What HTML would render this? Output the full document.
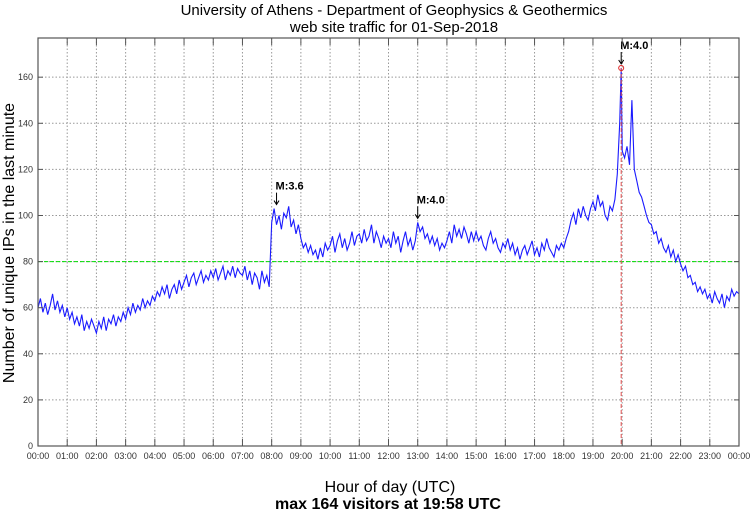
<!DOCTYPE html>
<html><head><meta charset="utf-8"><style>
body{margin:0;background:#fff;}
svg{display:block;font-family:"Liberation Sans",sans-serif;}
</style></head><body>
<svg id="chart" width="750" height="511">
<rect x="0" y="0" width="750" height="511" fill="#fff"/>
<text x="394" y="15" font-size="15" text-anchor="middle">University of Athens - Department of Geophysics &amp; Geothermics</text>
<text x="394" y="32" font-size="15" text-anchor="middle">web site traffic for 01-Sep-2018</text>
<g id="grid"></g>
<g id="series"></g>
<g id="ann"></g>
<rect x="38" y="38" width="701" height="408" fill="none" stroke="#555" stroke-width="1.2"/>
<g id="ticks"></g>
<text x="14" y="243" font-size="16" text-anchor="middle" transform="rotate(-90 14 243)">Number of unique IPs in the last minute</text>
<text x="390" y="492" font-size="16" text-anchor="middle">Hour of day (UTC)</text>
<text x="388" y="509" font-size="16" font-weight="bold" text-anchor="middle">max 164 visitors at 19:58 UTC</text>
</svg>
<script>
const visitors5 = [
60,64,58,62,57,61,66,59,63,58,61,56,
60,55,58,53,56,52,57,50,54,51,55,52,
49,54,51,56,50,55,53,57,52,56,54,58,
55,60,57,62,58,61,59,64,60,63,61,65,
63,67,65,69,66,70,64,68,70,66,72,68,
71,74,69,73,75,70,73,76,71,74,72,76,
73,77,72,75,78,72,76,74,78,73,77,75,
74,78,72,76,70,75,73,68,76,71,74,69,
97,103,96,100,94,101,99,104,95,98,92,96,
90,86,88,84,87,83,85,81,86,82,88,85,
87,91,84,89,92,86,90,85,88,93,87,91,
92,88,94,89,91,96,88,93,90,86,91,88,
90,86,93,88,91,84,89,93,87,90,85,89,
97,93,95,90,92,88,91,87,90,85,88,86,
89,93,88,96,91,94,90,95,92,88,93,89,
93,89,91,87,85,90,93,88,90,86,84,88,
86,90,85,88,83,86,81,85,87,83,86,89,
83,86,82,88,85,90,86,84,82,87,85,88,
86,90,93,98,101,96,103,99,104,100,98,103,
106,102,109,104,106,100,98,104,102,107,118,140,
128,125,130,122,150,120,115,110,108,104,100,97,
96,92,93,88,90,86,84,87,82,85,80,83,
79,76,78,73,74,70,71,67,69,66,68,64,
66,62,67,64,62,66,60,65,63,68,65,67,
66];
const peakMinute = 1198;
const peakValue = 164;
const thresholdValue = 80;
const yTicks = [0,20,40,60,80,100,120,140,160];
const xTickLabels = ["00:00","01:00","02:00","03:00","04:00","05:00","06:00","07:00","08:00","09:00","10:00","11:00","12:00","13:00","14:00","15:00","16:00","17:00","18:00","19:00","20:00","21:00","22:00","23:00","00:00"];
const quakeMinutes = [490, 780, 1198];
const quakeLabels = ["M:3.6", "M:4.0", "M:4.0"];

const NS="http://www.w3.org/2000/svg";
const L=38,R=739,T=38,B=446,YMAX=177;
const xs=m=>L+(m/1440)*(R-L);
const ys=v=>B-(v/YMAX)*(B-T);
function mk(tag,attrs,parent){const e=document.createElementNS(NS,tag);for(const k in attrs)e.setAttribute(k,attrs[k]);parent.appendChild(e);return e;}
const grid=document.getElementById('grid'),ticks=document.getElementById('ticks'),series=document.getElementById('series'),ann=document.getElementById('ann');

yTicks.forEach(v=>{
  const y=ys(v);
  if(v>0){const g=mk('line',{x1:L,x2:R,y1:y,y2:y,stroke:'#999','stroke-dasharray':'1.5,2','stroke-width':1},grid);
  
  }
  mk('line',{x1:L,x2:L+5,y1:y,y2:y,stroke:'#555'},ticks);
  mk('line',{x1:R-5,x2:R,y1:y,y2:y,stroke:'#555'},ticks);
  const t=mk('text',{x:L-5,y:y+3,'font-size':9,'text-anchor':'end',fill:'#333'},ticks);
  t.textContent=v;
  
  
});
xTickLabels.forEach((lab,i)=>{
  const x=xs(i*60);
  if(i>0&&i<24){const g=mk('line',{x1:x,x2:x,y1:T,y2:B,stroke:'#999','stroke-dasharray':'1.5,2','stroke-width':1},grid);
  
  }
  mk('line',{x1:x,x2:x,y1:B-7,y2:B,stroke:'#555'},ticks);
  mk('line',{x1:x,x2:x,y1:T,y2:T+7,stroke:'#555'},ticks);
  const t=mk('text',{x:x,y:B+13,'font-size':9,'text-anchor':'middle',fill:'#333'},ticks);
  t.textContent=lab;
  
  
});
const th=mk('line',{x1:L,x2:R,y1:ys(thresholdValue),y2:ys(thresholdValue),stroke:'#00dd00','stroke-dasharray':'4,2','stroke-width':1},grid);


const pts=[];
visitors5.forEach((v,i)=>{const m=i*5;pts.push([m,v]);});
pts.push([peakMinute,peakValue]);
pts.sort((a,b)=>a[0]-b[0]);
const d=pts.map((p,i)=>(i?'L':'M')+xs(p[0]).toFixed(1)+','+ys(p[1]).toFixed(1)).join('');
const pl=mk('path',{d:d,fill:'none',stroke:'#1a1aff','stroke-width':1.1},series);


const px=xs(peakMinute),py=ys(peakValue);
const vl=mk('line',{x1:px,x2:px,y1:py,y2:B,stroke:'#e05050','stroke-dasharray':'4,2','stroke-width':1},ann);


const pc=mk('circle',{cx:px,cy:py,r:2.5,fill:'none',stroke:'#e02020','stroke-width':1},ann);


quakeMinutes.forEach((m,i)=>{
  const x=xs(m);
  let v=0;pts.forEach(p=>{if(Math.abs(p[0]-m)<=10&&p[1]>v)v=p[1];});
  const yt=ys(v)-4;
  const a=mk('path',{d:`M${x},${yt-12}L${x},${yt}M${x-2.5},${yt-4}L${x},${yt}L${x+2.5},${yt-4}`,stroke:'#000',fill:'none','stroke-width':1},ann);
  
  
  const t=mk('text',{x:x-1,y:yt-15,'font-size':11,'font-weight':'bold'},ann);
  t.textContent=quakeLabels[i];
  
  
});
</script>
</body></html>
